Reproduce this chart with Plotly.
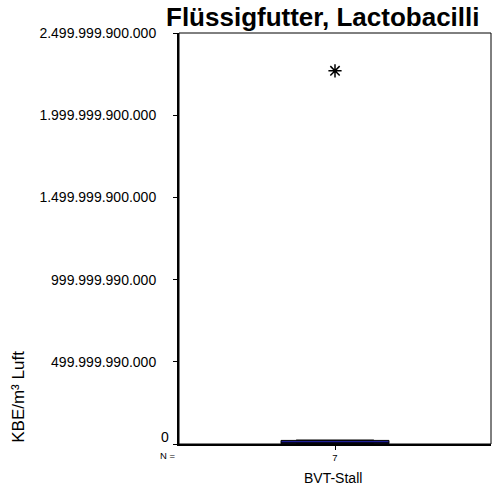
import plotly.graph_objects as go

# Data
group = "BVT-Stall"
n_label = "7"
values = [2e8, 1e9, 3e9, 6e9, 1.5e10, 2.4e10, 2.27e12]
ytick_vals = [0, 499999990000, 999999990000, 1499999900000, 1999999900000, 2499999900000]
ytick_text = ["0", "499.999.990.000", "999.999.990.000", "1.499.999.900.000",
              "1.999.999.900.000", "2.499.999.900.000"]

FONT = "Liberation Sans, Arial, sans-serif"

fig = go.Figure()
fig.add_trace(go.Box(
    y=values, x0=0, width=0.346, name=group,
    boxpoints="outliers", whiskerwidth=0.72,
    fillcolor="#1f1f99", line=dict(color="#000000", width=1),
    marker=dict(symbol="asterisk-open", color="#000000", size=11,
                line=dict(color="#000000", width=1.5)),
    showlegend=False, hoverinfo="y",
))

# tick labels except "0" are shown by the axis; "0" is drawn slightly above the axis as in the original
axis_text = [t if v != 0 else "" for v, t in zip(ytick_vals, ytick_text)]

fig.update_layout(
    template="none",
    width=492, height=486,
    margin=dict(l=179, r=1, t=33, b=42, autoexpand=False),
    paper_bgcolor="white", plot_bgcolor="white",
    font=dict(family=FONT, color="#000000", size=12),
    xaxis=dict(range=[-0.5, 0.5], tickvals=[0], ticktext=[n_label],
               ticks="outside", ticklen=4, tickcolor="#000", tickfont=dict(size=9.5),
               showgrid=False, zeroline=False, showline=True, linecolor="#000",
               linewidth=2, fixedrange=True, automargin=False),
    yaxis=dict(range=[0, 2.5e12], tickvals=ytick_vals, ticktext=axis_text,
               ticks="outside", ticklen=4, tickcolor="#000", tickfont=dict(size=14),
               ticklabelstandoff=14,
               showgrid=False, zeroline=False, showline=True, linecolor="#000",
               linewidth=2, fixedrange=True, automargin=False),
    shapes=[dict(type="rect", xref="paper", yref="paper", x0=0, x1=1, y0=0, y1=1,
                 line=dict(color="#000", width=1))],
    annotations=[
        dict(text="<b>Flüssigfutter, Lactobacilli</b>", xref="paper", yref="paper",
             x=0.4615, y=1, xanchor="center", yanchor="bottom", yshift=0, borderpad=0,
             showarrow=False, font=dict(size=26, family=FONT)),
        dict(text="KBE/m³ Luft", xref="paper", yref="paper", x=-0.514, y=0.114,
             xanchor="center", yanchor="middle",
             textangle=-90, showarrow=False, font=dict(size=17, family=FONT)),
        dict(text=ytick_text[0], xref="paper", yref="paper", x=0, y=0,
             xanchor="right", yanchor="middle", xshift=-8, yshift=7,
             showarrow=False, font=dict(size=14, family=FONT)),
        dict(text="N =", xref="paper", yref="paper", x=0, y=-0.029,
             xanchor="right", yanchor="middle", xshift=-1, showarrow=False,
             font=dict(size=9.5, family=FONT)),
        dict(text=group, xref="paper", yref="paper", x=0.494, y=-0.0827,
             xanchor="center", yanchor="middle",
             showarrow=False, font=dict(size=14, family=FONT)),
    ],
)

fig.write_html(
    "out.html",
    config={"displayModeBar": False},
    post_script="document.body.style.margin='0';document.body.style.overflow='hidden';",
)
